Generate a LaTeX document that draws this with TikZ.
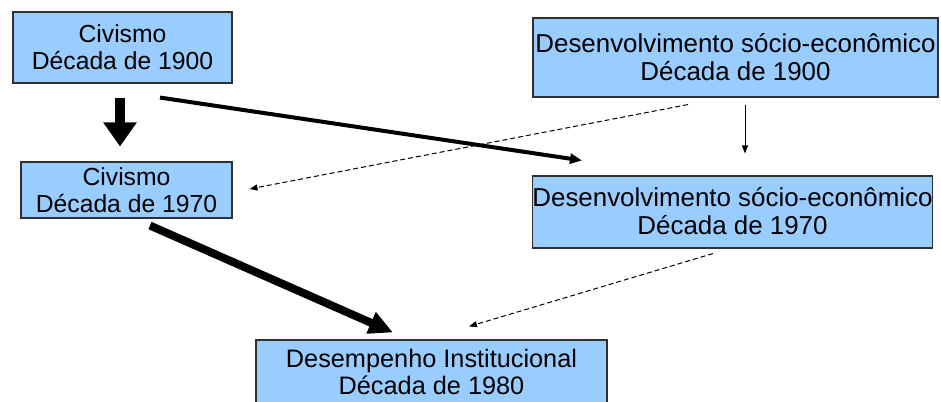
\documentclass[tikz,border=0pt]{standalone}
\usepackage{fontspec}
\setmainfont{Liberation Sans}
\usetikzlibrary{arrows.meta,calc}
\definecolor{boxblue}{HTML}{99CCFF}
\definecolor{boxline}{HTML}{303030}
\newcommand{\capline}[1]{\vphantom{C}\smash{#1}}
\tikzset{
  box/.style={draw=boxline, line width=1.1pt, fill=boxblue, rectangle, inner sep=0pt,
    align=center, text=black, font=\fontsize{24.7}{27}\selectfont},
  bigbox/.style={box, font=\fontsize{25.9}{28}\selectfont},
  basebox/.style={box, font=\fontsize{25.3}{27}\selectfont},
  blockarrow/.style={line width=10pt, -{Triangle[width=32pt,length=24pt]}},
  heavyarrow/.style={line width=8pt, -{Triangle[width=22pt,length=24pt]}},
  midarrow/.style={line width=4pt, -{Triangle[width=10pt,length=12pt]}},
  thinarrow/.style={line width=1pt, -{Triangle[width=6pt,length=8pt]}},
  dasharrow/.style={line width=1pt, dash pattern=on 5pt off 3pt, -{Triangle[width=6pt,length=8pt]}}
}
\begin{document}
\begin{tikzpicture}[x=1pt,y=-1pt]
\useasboundingbox (0,0) rectangle (941,401);
\clip (0,0) rectangle (941,401);
\node[box, minimum width=219pt, minimum height=71pt] (A) at (122.5,47.5)
  {\capline{Civismo}\\Década de 1900};
\node[box, minimum width=211pt, minimum height=56pt] (B) at (126.5,190)
  {\capline{Civismo}\\Década de 1970};
\node[bigbox, minimum width=405pt, minimum height=79pt] (C) at (735.5,57.5)
  {\capline{Desenvolvimento sócio-econômico}\\Década de 1900};
\node[bigbox, minimum width=399pt, minimum height=72pt] (D) at (732.5,212)
  {\capline{Desenvolvimento sócio-econômico}\\Década de 1970};
\node[basebox, minimum width=351pt, minimum height=65pt] (E) at (431.5,372.5)
  {\capline{Desempenho Institucional}\\Década de 1980};

\draw[blockarrow] ($(A.south)+(-2.5,14)$) -- ($(B.north)+(-6.5,-15)$);
\draw[midarrow] ($(A.south)+(37.5,14)$) -- ($(D.north)+(-150.5,-15)$);
\draw[dasharrow] ($(C.south)+(-47.5,7)$) -- ($(B.east)+(17,-1)$);
\draw[thinarrow] ($(C.south)+(9.5,7)$) -- ($(D.north)+(12.5,-22)$);
\draw[heavyarrow] ($(B.south)+(23.5,7)$) -- ($(E.north)+(-38.5,-7)$);
\draw[dasharrow] ($(D.south)+(-19.5,5)$) -- ($(E.north)+(37.5,-13)$);
\end{tikzpicture}
\end{document}
